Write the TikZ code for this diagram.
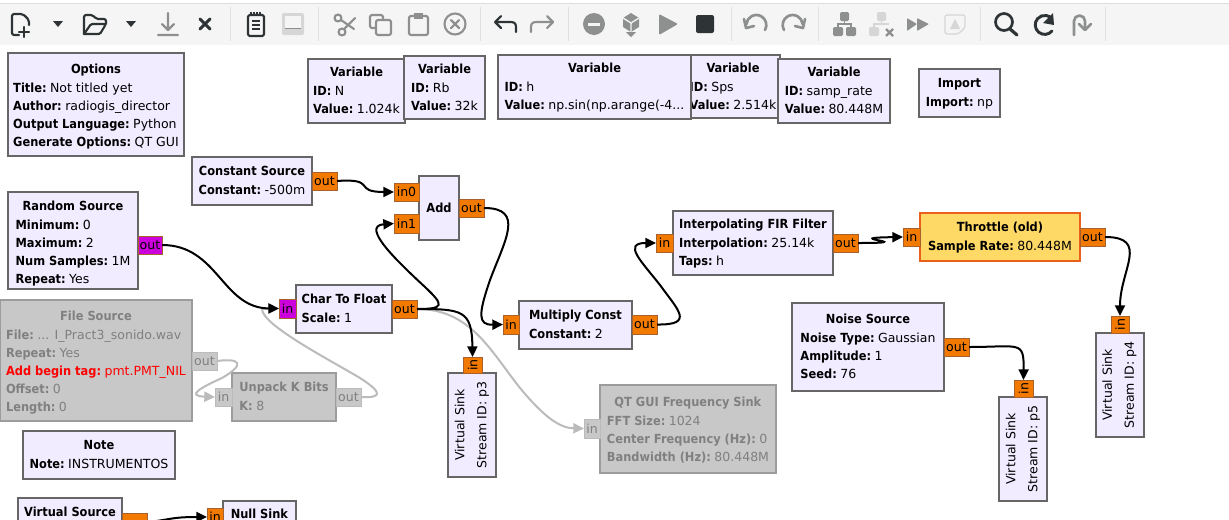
\documentclass[tikz,border=0pt]{standalone}
\usepackage{fontspec}
\setmainfont[BoldFeatures={FakeStretch=0.91}]{DejaVu Sans}
\usetikzlibrary{arrows.meta}
\definecolor{blockfill}{HTML}{F1ECFF}
\definecolor{blockedge}{HTML}{666666}
\definecolor{offfill}{HTML}{C8C8C8}
\definecolor{offedge}{HTML}{9C9C9C}
\definecolor{offtext}{HTML}{808080}
\definecolor{offwire}{HTML}{BBBBBB}
\definecolor{portorange}{HTML}{F37A00}
\definecolor{portedge}{HTML}{A8602C}
\definecolor{portmagenta}{HTML}{CC00DD}
\definecolor{throttlefill}{HTML}{FFD966}
\definecolor{throttleedge}{HTML}{EA611E}
\definecolor{bardark}{HTML}{2E3436}
\definecolor{bargrey}{HTML}{8E9090}
\definecolor{barlight}{HTML}{D6D6D6}
\newcommand{\blockrows}[3][10.5pt]{\begin{tabular}{@{}l@{}}\multicolumn{1}{@{}c@{}}{\rule{0pt}{#1}\textbf{#2}}\\[0.75pt]#3\end{tabular}}
\newcommand{\kv}[2]{\textbf{#1:}\hspace{2.6pt}#2}
\tikzset{
	block/.style 2 args={draw=blockedge, fill=blockfill, line width=1.5pt, outer sep=0pt, inner sep=0pt, anchor=north west, minimum width=#1*0.75pt, minimum height=#2*0.75pt},
	sink/.style={block={104}{48}, anchor=center, rotate=90, align=center},
	off/.style={draw=offedge, fill=offfill, text=offtext},
	port/.style 2 args={draw=portedge, fill=portorange, line width=0.75pt, outer sep=0pt, inner sep=0pt, anchor=north west, minimum width=#1*0.75pt, minimum height=#2*0.75pt},
	magport/.style={fill=portmagenta, draw=portedge},
	offport/.style={draw=offwire, fill=offfill, text=offtext},
	wire/.style={line width=1.5pt, -{Triangle[length=8pt,width=7.5pt]}},
	offwirepath/.style={wire, color=offwire},
	baricon/.style={draw=bardark, line width=1.6pt, line cap=round, line join=round},
	greyicon/.style={draw=bargrey, line width=1.6pt, line cap=round, line join=round},
	lighticon/.style={draw=barlight, line width=1.6pt, line cap=round, line join=round},
}
\begin{document}
\begin{tikzpicture}[x=0.75pt, y=-0.75pt, font=\fontsize{9.4}{13.5}\selectfont]
	\clip (0,0) rectangle (1229,519);
	\fill[white] (0,0) rectangle (1229,519);
	% toolbar
	\fill[black!4] (0,3) rectangle (1229,45);
	\draw[black!13, line width=0.75pt] (0,3) -- (1229,3);
	\foreach \sepx in {230,318,480,568,731,818,980,1105} {
		\draw[black!12, line width=0.75pt] (\sepx,7) -- (\sepx,41);
	}
	\draw[baricon, rounded corners=1.5pt] (19,35) -- (12,35) -- (12,14) -- (23,14) -- (29,20) -- (29,25);
	\draw[baricon] (24,27) -- (24,37) (19,32) -- (29,32);
	\fill[bardark] (53,21) -- (63,21) -- (58,27) -- cycle;
	\draw[baricon, rounded corners=1.5pt] (84,34) -- (84,15) -- (93,15) -- (96,19) -- (106,19) -- (106,24);
	\draw[baricon, rounded corners=1pt] (84,34) -- (100,34) -- (106,24) -- (91,24) -- (84,34);
	\fill[bardark] (126,21) -- (136,21) -- (131,27) -- cycle;
	\draw[greyicon] (168,13) -- (168,29) (162,24) -- (168,30) -- (174,24) (158,35) -- (178,35);
	\draw[baricon, line width=2.2pt] (200,19) -- (210,29) (200,29) -- (210,19);
	\draw[baricon, rounded corners=1.5pt] (248,15) rectangle (264,36);
	\draw[bardark, line width=1pt] (251,12) -- (251,16) (254,12) -- (254,16) (257,12) -- (257,16) (260,12) -- (260,16);
	\draw[bardark, line width=1.2pt] (252,21) -- (260,21) (252,25) -- (260,25) (252,29) -- (260,29);
	\fill[barlight, rounded corners=1.5pt] (282,13) rectangle (304,35);
	\fill[black!4] (285,16) rectangle (301,28);
	\draw[bargrey, line width=0.75pt] (285,28) -- (301,28);
	\draw[greyicon] (338,18) circle (3.5) (342,32) circle (3.5);
	\draw[greyicon] (341,20) -- (354,29) (344,29) -- (355,18);
	\draw[greyicon, rounded corners=1.5pt] (375,28) -- (370,28) -- (370,15) -- (383,15) -- (383,19);
	\draw[greyicon, rounded corners=1.5pt] (376,20) rectangle (391,35);
	\draw[greyicon, rounded corners=1.5pt] (409,16) rectangle (428,35);
	\fill[bargrey] (414,13) rectangle (423,19);
	\draw[greyicon] (455,24) circle (10.5);
	\draw[greyicon] (451,20) -- (459,28) (451,28) -- (459,20);
	\draw[baricon] (516,32) -- (516,27) .. controls (516,23) and (514,22) .. (510,22) -- (495,22) (501,16) -- (495,22) -- (501,28);
	\draw[greyicon] (531,32) -- (531,27) .. controls (531,23) and (533,22) .. (537,22) -- (553,22) (547,16) -- (553,22) -- (547,28);
	\fill[bargrey] (594,24) circle (11);
	\fill[black!4] (588,22.5) rectangle (600,26);
	\fill[bargrey] (631,13) -- (639,18) -- (639,27) -- (631,32) -- (623,27) -- (623,18) -- cycle;
	\draw[black!4, line width=1pt] (623,18) -- (631,23) -- (639,18) (631,23) -- (631,32);
	\fill[bargrey] (626,32) -- (636,32) -- (631,37) -- cycle;
	\fill[bargrey, rounded corners=1pt] (659,14) -- (678,24) -- (659,35) -- cycle;
	\fill[bardark, rounded corners=1.5pt] (696,15) rectangle (714,33);
	\draw[greyicon, line width=2pt] (765,30) arc[start angle=30, end angle=-175, radius=10];
	\draw[greyicon, line width=2pt] (744,19) -- (746,28) -- (754,26);
	\draw[greyicon, line width=2pt] (784,30) arc[start angle=150, end angle=355, radius=10];
	\draw[greyicon, line width=2pt] (805,19) -- (803,28) -- (795,26);
	\fill[bargrey, rounded corners=1pt] (840,12) rectangle (849,21) (833,27) rectangle (843,36) (846,27) rectangle (856,36);
	\draw[bargrey, line width=1.2pt] (844.5,21) -- (844.5,25) (838,27) -- (838,24) -- (851,24) -- (851,27);
	\fill[barlight, rounded corners=1pt] (877,12) rectangle (886,21) (869,27) rectangle (879,36);
	\draw[barlight, line width=1.2pt] (881.5,21) -- (881.5,25) (874,27) -- (874,24) -- (889,24);
	\draw[bargrey, line width=1.8pt] (886,29) -- (893,36) (886,36) -- (893,29);
	\fill[bargrey, rounded corners=0.6pt] (907,18) -- (917,24) -- (907,31) -- cycle (917,18) -- (929,24) -- (917,31) -- cycle;
	\draw[barlight, line width=0.9pt, rounded corners=1.5pt] (945,15) -- (965,15) -- (965,28) -- (958,34) -- (945,34) -- cycle;
	\fill[barlight] (955,19) -- (960,29) -- (950,29) -- cycle;
	\draw[baricon, line width=2pt] (1004,22) circle (8.5);
	\draw[baricon, line width=2.4pt] (1010,29) -- (1017,35);
	\draw[baricon, line width=2.2pt] (1052,31) arc[start angle=40, end angle=320, radius=9.5];
	\fill[bardark] (1053,13) -- (1054,25) -- (1043,23) -- cycle;
	\draw[greyicon, line width=2pt] (1074,35) -- (1074,21) arc[start angle=180, end angle=360, radius=5.5] -- (1085,29);
	\draw[greyicon, line width=2pt] (1079,24) -- (1085,30) -- (1091,24);
	% variables along the top
	\node[block={176}{103}] (options) at (8,53) {\blockrows[12pt]{Options}{\kv{Title}{Not titled yet}\\\kv{Author}{radiogis\_director}\\\kv{Output Language}{Python}\\\kv{Generate Options}{QT GUI}}};
	\node[block={97}{64}] (var_n) at (308,59) {\blockrows{Variable}{\kv{ID}{N}\\\kv{Value}{1.024k}}};
	\node[block={81}{63}] (var_rb) at (404,56) {\blockrows{Variable}{\kv{ID}{Rb}\\\kv{Value}{32k}}};
	\node[block={94}{63}] (var_sps) at (686,55) {\blockrows{Variable}{\kv{ID}{Sps}\\\kv{Value}{2.514k}}};
	\node[block={193}{64}] (var_h) at (498,55) {\blockrows{Variable}{\kv{ID}{h}\\\kv{Value}{np.sin(np.arange(-4...}}};
	\node[block={112}{64}] (var_rate) at (778,59) {\blockrows{Variable}{\kv{ID}{samp\_rate}\\\kv{Value}{80.448M}}};
	\node[block={81}{48}] (imports) at (919,69) {\blockrows{Import}{\kv{Import}{np}}};
	% blocks
	\node[block={120}{48}] (const) at (192,157) {\blockrows{Constant Source}{\kv{Constant}{-500m}}};
	\node[port={25}{18}] (const_out) at (312,172) {out};
	\node[block={40}{64}] (add) at (419,176) {\textbf{Add}};
	\node[port={25}{18}] (add_in0) at (394,183) {in0};
	\node[port={25}{19}] (add_in1) at (394,214) {in1};
	\node[port={25}{18}] (add_out) at (459,199) {out};
	\node[block={130}{96}] (random) at (8,192) {\blockrows[14pt]{Random Source}{\kv{Minimum}{0}\\\kv{Maximum}{2}\\\kv{Num Samples}{1M}\\\kv{Repeat}{Yes}}};
	\node[port={24}{18}, magport] (random_out) at (138,236) {out};
	\node[block={96}{48}] (tofloat) at (296,285) {\blockrows{Char To Float}{\kv{Scale}{1}}};
	\node[port={17}{19}, magport] (tofloat_in) at (279,299) {in};
	\node[port={25}{18}] (tofloat_out) at (392,300) {out};
	\node[block={113}{48}] (multiply) at (519,301) {\blockrows{Multiply Const}{\kv{Constant}{2}}};
	\node[port={16}{19}] (multiply_in) at (503,315) {in};
	\node[port={25}{19}] (multiply_out) at (632,315) {out};
	\node[block={160}{64}] (interp) at (673,211) {\blockrows{Interpolating FIR Filter}{\kv{Interpolation}{25.14k}\\\kv{Taps}{h}}};
	\node[port={17}{18}] (interp_in) at (656,234) {in};
	\node[port={25}{18}] (interp_out) at (833,234) {out};
	\node[block={160}{48}, draw=throttleedge, fill=throttlefill] (throttle) at (920,213) {\blockrows{Throttle (old)}{\kv{Sample Rate}{80.448M}}};
	\node[port={17}{18}] (throttle_in) at (903,228) {in};
	\node[port={25}{18}] (throttle_out) at (1080,228) {out};
	\node[block={152}{88}] (noise) at (792,303) {\blockrows{Noise Source}{\kv{Noise Type}{Gaussian}\\\kv{Amplitude}{1}\\\kv{Seed}{76}}};
	\node[port={25}{18}] (noise_out) at (944,338) {out};
	% sinks stood on end
	\node[sink] (sink_p3) at (472,425) {Virtual Sink\\[3pt]Stream ID: p3};
	\node[port={16}{19}, rotate=90, anchor=center] (sink_p3_in) at (472.5,365) {in};
	\node[sink] (sink_p4) at (1119.5,385) {Virtual Sink\\[3pt]Stream ID: p4};
	\node[port={17}{18}, rotate=90, anchor=center] (sink_p4_in) at (1120,324.5) {in};
	\node[sink] (sink_p5) at (1023,449) {Virtual Sink\\[3pt]Stream ID: p5};
	\node[port={17}{19}, rotate=90, anchor=center] (sink_p5_in) at (1023.5,388.5) {in};
	% disabled blocks
	\node[block={192}{121}, off] (file) at (0,300) {\blockrows[12pt]{File Source}{\kv{File}{... I\_Pract3\_sonido.wav}\\\kv{Repeat}{Yes}\\\textcolor{red}{\kv{Add begin tag}{pmt.PMT\_NIL}}\\\kv{Offset}{0}\\\kv{Length}{0}}};
	\node[port={25}{18}, offport] (file_out) at (192,352) {out};
	\node[block={104}{48}, off] (unpack) at (232,373) {\blockrows{Unpack K Bits}{\kv{K}{8}}};
	\node[port={17}{18}, offport] (unpack_in) at (215,388) {in};
	\node[port={25}{18}, offport] (unpack_out) at (336,388) {out};
	\node[block={176}{88}, off] (freqsink) at (600,385) {\blockrows[11.5pt]{QT GUI Frequency Sink}{\kv{FFT Size}{1024}\\\kv{Center Frequency (Hz)}{0}\\\kv{Bandwidth (Hz)}{80.448M}}};
	\node[port={16}{19}, offport] (freqsink_in) at (584,419) {in};
	% bottom of the canvas
	\node[block={152}{48}] (note) at (23,431) {\blockrows{Note}{\kv{Note}{INSTRUMENTOS}}};
	\node[block={104}{28}] (vsource) at (18,498) {\textbf{Virtual Source}};
	\node[port={25}{18}] (vsource_out) at (122,513) {};
	\node[block={73}{26}] (nullsink) at (223,501) {\textbf{Null Sink}};
	\node[port={16}{18}] (nullsink_in) at (207,508) {in};
	% disabled wires go under the others
	\draw[offwirepath] (file_out.east) .. controls (240,358) and (246,364) .. (222,378) .. controls (200,388) and (186,396) .. (unpack_in.west);
	\draw[offwirepath] (unpack_out.east) .. controls (380,398) and (385,394) .. (360,378) .. controls (330,360) and (262,325) .. (262,309) -- (tofloat_in.west);
	\draw[offwirepath] (tofloat_out.east) .. controls (470,309) and (490,350) .. (520,388) .. controls (545,418) and (560,428) .. (freqsink_in.west);
	% live wires
	\draw[wire] (const_out.east) .. controls (378,178) and (352,192) .. (add_in0.west);
	\draw[wire] (tofloat_out.east) .. controls (445,309) and (444,305) .. (425,287) .. controls (398,262) and (360,226) .. (add_in1.west);
	\draw[wire] (tofloat_out.east) .. controls (462,309) and (472,310) .. (sink_p3_in.east);
	\draw[wire] (random_out.east) .. controls (218,245) and (222,308) .. (tofloat_in.west);
	\draw[wire] (add_out.east) .. controls (525,208) and (505,240) .. (490,280) .. controls (478,315) and (478,325) .. (multiply_in.west);
	\draw[wire] (multiply_out.east) .. controls (695,325) and (678,310) .. (660,285) .. controls (642,262) and (622,243) .. (interp_in.west);
	\draw[wire] (interp_out.east) .. controls (925,243) and (835,238) .. (throttle_in.west);
	\draw[wire] (throttle_out.east) .. controls (1150,237) and (1120,270) .. (sink_p4_in.east);
	\draw[wire] (noise_out.east) .. controls (1020,347) and (1024,340) .. (sink_p5_in.east);
	\draw[wire] (vsource_out.east) .. controls (170,520) and (170,517) .. (nullsink_in.west);
\end{tikzpicture}
\end{document}
